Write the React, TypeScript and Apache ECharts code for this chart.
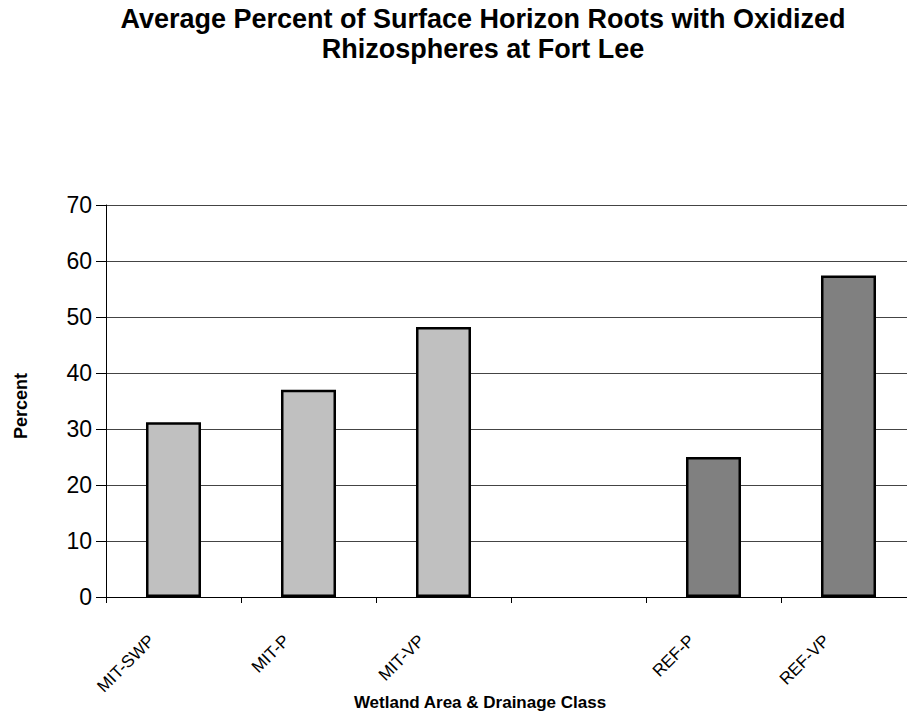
import React, { useEffect, useRef } from "react";
import * as echarts from "echarts";

const categories = ["MIT-SWP", "MIT-P", "MIT-VP", "", "REF-P", "REF-VP"];
const mitValues = [31.2, 37, 48.2, null, null, null];
const refValues = [null, null, null, null, 25, 57.4];
const yTicks = { min: 0, max: 70, interval: 10 };
const titleLines = ["Average Percent of Surface Horizon Roots with Oxidized", "Rhizospheres at Fort Lee"];
const xName = "Wetland Area & Drainage Class";
const yName = "Percent";

export default function App() {
  const ref = useRef<HTMLDivElement>(null);
  useEffect(() => {
    document.body.style.margin = "0";
    document.body.style.overflow = "hidden";
    document.documentElement.style.overflow = "hidden";
    const chart = echarts.init(ref.current!, null, { renderer: "svg" });
    const font = "Liberation Sans, Arial, sans-serif";
    chart.setOption({
      animation: false,
      backgroundColor: "#ffffff",
      textStyle: { fontFamily: font },
      graphic: [
        {
          type: "text",
          x: 483,
          y: 4,
          style: {
            text: titleLines.join("\n"),
            fontSize: 27,
            fontWeight: "bold",
            fontFamily: font,
            fill: "#000",
            textAlign: "center",
            lineHeight: 30,
          },
        },
        {
          type: "text",
          x: 480,
          y: 694,
          style: {
            text: xName,
            fontSize: 17,
            fontWeight: "bold",
            fontFamily: font,
            fill: "#000",
            textAlign: "center",
          },
        },
      ],
      grid: { left: 106, top: 205, right: 0, height: 392, containLabel: false },
      xAxis: {
        type: "category",
        data: categories,
        axisLine: { lineStyle: { color: "#000", width: 1 } },
        axisTick: { show: true, length: 6, lineStyle: { color: "#000" }, alignWithLabel: false },
        axisLabel: {
          rotate: 45,
          interval: 0,
          margin: 19,
          padding: [0, 31, 0, 0],
          fontSize: 17,
          color: "#000",
          fontFamily: font,
        },
        splitLine: { show: false },
      },
      yAxis: {
        type: "value",
        min: yTicks.min,
        max: yTicks.max,
        interval: yTicks.interval,
        name: yName,
        nameLocation: "middle",
        nameGap: 76,
        nameRotate: 90,
        nameTextStyle: { fontSize: 18, fontWeight: "bold", color: "#000", fontFamily: font, padding: [0, 10, 0, 0] },
        axisLine: { show: true, lineStyle: { color: "#000", width: 1 } },
        axisTick: { show: true, length: 10, lineStyle: { color: "#000" } },
        axisLabel: { fontSize: 23, color: "#000", margin: 14, fontFamily: font },
        splitLine: { show: true, lineStyle: { color: "#444", width: 1 } },
      },
      series: [
        {
          type: "bar",
          data: mitValues,
          barWidth: 55,
          barGap: "-100%",
          itemStyle: { color: "#C0C0C0", borderColor: "#000", borderWidth: 2.5 },
        },
        {
          type: "bar",
          data: refValues,
          barWidth: 55,
          barGap: "-100%",
          itemStyle: { color: "#808080", borderColor: "#000", borderWidth: 2.5 },
        },
      ],
    });
    return () => chart.dispose();
  }, []);
  return <div ref={ref} style={{ width: 916, height: 719 }} />;
}
